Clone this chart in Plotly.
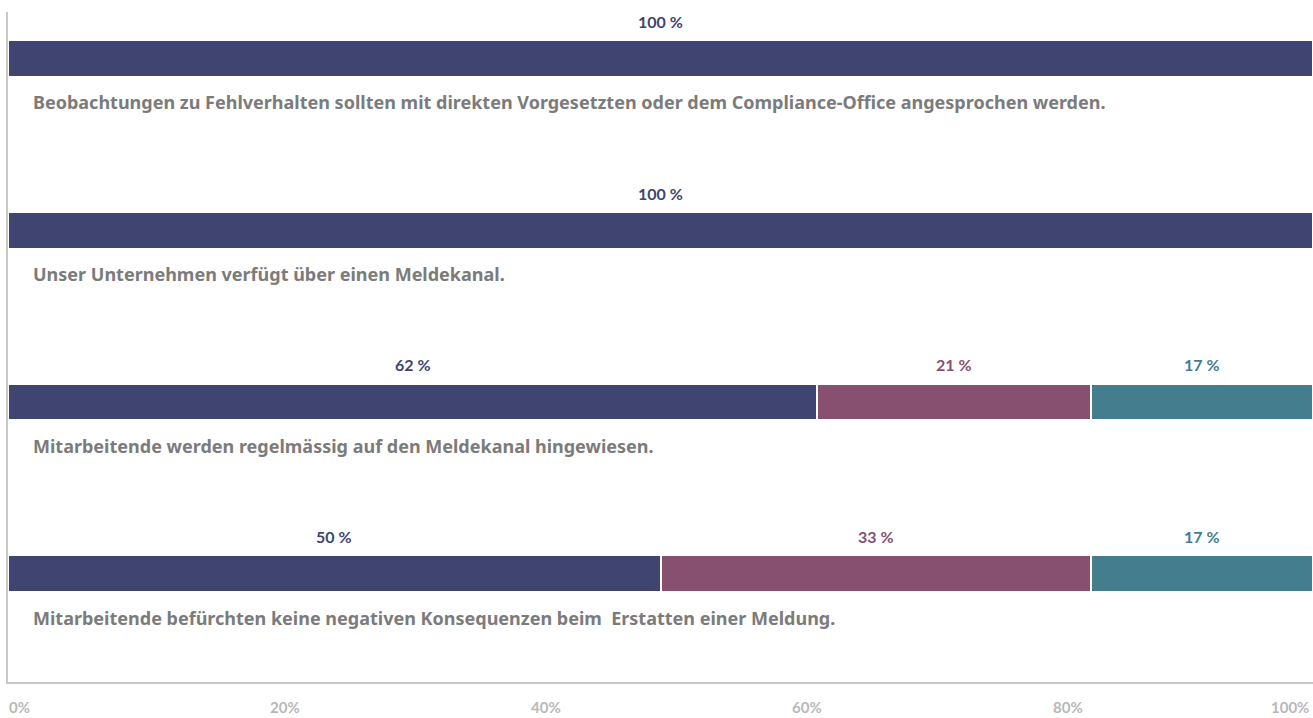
import plotly.graph_objects as go

categories = [
    "Beobachtungen zu Fehlverhalten sollten mit direkten Vorgesetzten oder dem Compliance-Office angesprochen werden.",
    "Unser Unternehmen verfügt über einen Meldekanal.",
    "Mitarbeitende werden regelmässig auf den Meldekanal hingewiesen.",
    "Mitarbeitende befürchten keine negativen Konsequenzen beim  Erstatten einer Meldung.",
]
series_a = [100, 100, 62, 50]
series_b = [0, 0, 21, 33]
series_c = [0, 0, 17, 17]
tick_values = [0, 20, 40, 60, 80, 100]
tick_labels = ["0%", "20%", "40%", "60%", "80%", "100%"]

colors = ["#404470", "#875070", "#437d8e"]
series = [series_a, series_b, series_c]

fig = go.Figure()
for vals, col in zip(series, colors):
    fig.add_trace(go.Bar(
        y=list(range(len(categories))), x=vals, orientation="h",
        marker=dict(color=col, line=dict(color="white", width=2)),
        width=0.215, hoverinfo="skip", showlegend=False,
    ))

annotations = []
for i in range(len(categories)):
    base = 0
    for vals, col in zip(series, colors):
        v = vals[i]
        if v > 0:
            annotations.append(dict(
                x=base + v / 2, y=i, xref="x", yref="y", text=f"<b>{v} %</b>",
                showarrow=False, yshift=37, font=dict(family="Lato", size=16, color=col),
            ))
        base += v
    annotations.append(dict(
        x=0, y=i, xref="x", yref="y", text=f"<b>{categories[i]}</b>", xanchor="left",
        showarrow=False, xshift=23, yshift=-44,
        font=dict(family="Noto Sans", size=18, color="#7b7b7b"),
    ))

for tv, tl in zip(tick_values, tick_labels):
    annotations.append(dict(
        x=tv, y=0, xref="x", yref="paper", text=f"<b>{tl}</b>",
        xanchor="right" if tv == 100 else "left", yanchor="middle",
        showarrow=False, yshift=-25, xshift=-1 if tv < 100 else -2,
        font=dict(family="Lato", size=15, color="#b8b8b8"),
    ))

fig.update_layout(
    barmode="stack",
    width=1313, height=718,
    margin=dict(l=8, r=0, t=12, b=36),
    paper_bgcolor="white", plot_bgcolor="white",
    annotations=annotations,
    xaxis=dict(range=[0, 100], showgrid=False, zeroline=False, showticklabels=False,
               showline=True, linecolor="#c8c8c8", linewidth=1.5, ticks="", layer="below traces"),
    yaxis=dict(range=[3.63, -0.27], showgrid=False, zeroline=False, showticklabels=False,
               showline=True, linecolor="#c8c8c8", linewidth=1.5, ticks="", layer="below traces"),
)

fig.write_html("out.html", config={"displayModeBar": False},
               post_script="document.body.style.margin='0';")
